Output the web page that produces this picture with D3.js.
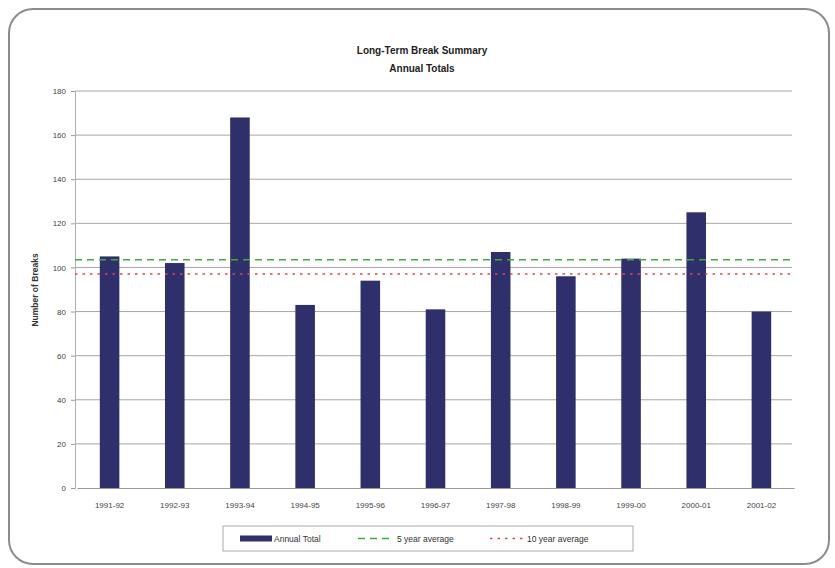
<!DOCTYPE html>
<html>
<head>
<meta charset="utf-8">
<script src="https://cdn.jsdelivr.net/npm/d3@7"></script>
<style>
  html, body { margin: 0; padding: 0; background: #fff; }
  svg { display: block; font-family: "Liberation Sans", Arial, sans-serif; }
</style>
</head>
<body>
<svg id="chart" width="835" height="568"></svg>
<script>
// Financial years and the annual number of breaks
const seasons = ["1991-92", "1992-93", "1993-94", "1994-95", "1995-96", "1996-97",
                 "1997-98", "1998-99", "1999-00", "2000-01", "2001-02"];
const annualTotals = [105, 102, 168, 83, 94, 81, 107, 96, 104, 125, 80];
const fiveYearAverage = 103.5;
const tenYearAverage = 97;
const yTicks = [0, 20, 40, 60, 80, 100, 120, 140, 160, 180];
const titleLines = ["Long-Term Break Summary", "Annual Totals"];
const legendLabels = ["Annual Total", "5 year average", "10 year average"];

const svg = d3.select("#chart");
const plot = { left: 75, right: 792, top: 91, bottom: 488 };

// Rounded outer frame
svg.append("rect")
  .attr("x", 9).attr("y", 9).attr("width", 820).attr("height", 555)
  .attr("rx", 24).attr("ry", 24)
  .attr("fill", "#fff").attr("stroke", "#8c8c8c").attr("stroke-width", 2);

const x = d3.scaleBand().domain(seasons).range([plot.left + 2, plot.right + 2]).paddingInner(0.7).paddingOuter(0.35);
const y = d3.scaleLinear().domain([0, 180]).range([plot.bottom, plot.top]);

// Horizontal gridlines
svg.append("g").selectAll("line").data(yTicks.filter(d => d > 0)).join("line")
  .attr("x1", plot.left).attr("x2", plot.right)
  .attr("y1", d => y(d)).attr("y2", d => y(d))
  .attr("stroke", "#a6a6a6").attr("stroke-width", 1);

// Y axis
const yAxis = svg.append("g").attr("transform", `translate(${plot.left},0)`)
  .call(d3.axisLeft(y).tickValues(yTicks).tickSize(4).tickPadding(5));
yAxis.select(".domain").attr("stroke", "#b0b0b0");
yAxis.selectAll(".tick line").attr("stroke", "#999");
yAxis.selectAll("text").attr("fill", "#444").style("font-size", "8px");

// X axis
const xAxis = svg.append("g").attr("transform", `translate(0,${plot.bottom})`)
  .call(d3.axisBottom(x).tickSize(0).tickPadding(14));
xAxis.select(".domain").attr("stroke", "#999");
xAxis.selectAll("text").attr("fill", "#444").style("font-size", "8px");

// Bars
svg.append("g").selectAll("rect").data(annualTotals).join("rect")
  .attr("x", (d, i) => x(seasons[i]))
  .attr("width", x.bandwidth())
  .attr("y", d => y(d))
  .attr("height", d => y(0) - y(d))
  .attr("fill", "#2f2f6b");

// Average lines
svg.append("line")
  .attr("x1", plot.left).attr("x2", plot.right)
  .attr("y1", y(fiveYearAverage)).attr("y2", y(fiveYearAverage))
  .attr("stroke", "#3faa3f").attr("stroke-width", 1.5).attr("stroke-dasharray", "7,5");
svg.append("line")
  .attr("x1", plot.left).attr("x2", plot.right)
  .attr("y1", y(tenYearAverage)).attr("y2", y(tenYearAverage))
  .attr("stroke", "#e04848").attr("stroke-width", 1.5).attr("stroke-dasharray", "2.5,5");

// Title
svg.append("g").selectAll("text").data(titleLines).join("text")
  .attr("x", 422).attr("y", (d, i) => 54 + i * 18)
  .attr("text-anchor", "middle")
  .attr("fill", "#222").style("font-size", "10px").style("font-weight", "bold")
  .text(d => d);

// Y axis title
svg.append("text")
  .attr("transform", "translate(38,290) rotate(-90)")
  .attr("text-anchor", "middle")
  .attr("fill", "#333").style("font-size", "8.5px").style("font-weight", "bold")
  .text("Number of Breaks");

// Legend
const legend = svg.append("g");
legend.append("rect")
  .attr("x", 223).attr("y", 526).attr("width", 410).attr("height", 25)
  .attr("fill", "#fff").attr("stroke", "#aaa").attr("stroke-width", 1);
const ly = 538.5;
legend.append("rect").attr("x", 240).attr("y", ly - 3).attr("width", 32).attr("height", 6).attr("fill", "#2f2f6b");
legend.append("line").attr("x1", 358).attr("x2", 394).attr("y1", ly).attr("y2", ly)
  .attr("stroke", "#3faa3f").attr("stroke-width", 1.5).attr("stroke-dasharray", "7,5");
legend.append("line").attr("x1", 490).attr("x2", 525).attr("y1", ly).attr("y2", ly)
  .attr("stroke", "#e04848").attr("stroke-width", 1.5).attr("stroke-dasharray", "2.5,5");
const lx = [274, 397, 527];
legend.selectAll("text.lbl").data(legendLabels).join("text")
  .attr("class", "lbl")
  .attr("x", (d, i) => lx[i]).attr("y", ly + 3)
  .attr("fill", "#333").style("font-size", "8.5px")
  .text(d => d);
</script>
</body>
</html>
